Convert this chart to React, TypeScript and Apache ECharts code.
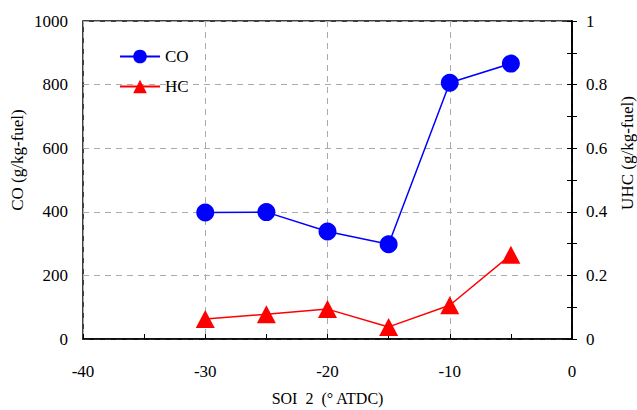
import React, { useEffect, useRef } from "react";
import * as echarts from "echarts";

const soi = [-30, -25, -20, -15, -10, -5];
const coValues = [398, 399, 338, 298, 806, 866];
const hcValues = [0.063, 0.078, 0.094, 0.038, 0.106, 0.265];

const FONT = "Liberation Serif";

export default function App() {
  const ref = useRef<HTMLDivElement>(null);
  useEffect(() => {
    const chart = echarts.init(ref.current!, null, { renderer: "svg" });
    const axisText = { color: "#000", fontFamily: FONT, fontSize: 17 };
    chart.setOption({
      animation: false,
      backgroundColor: "#fff",
      grid: {
        left: 83,
        right: 65,
        top: 21,
        bottom: 71,
        show: true,
        borderColor: "#000",
        borderWidth: 1.5,
        containLabel: false,
        outerBoundsMode: "none",
      },
      legend: {
        left: 114,
        top: 43,
        orient: "vertical",
        itemWidth: 40,
        itemHeight: 17,
        itemGap: 13,
        textStyle: { ...axisText },
        data: ["CO", "HC"],
      },
      xAxis: {
        type: "value",
        min: -40,
        max: 0,
        interval: 10,
        axisLine: { lineStyle: { color: "#000", width: 1.5 }, onZero: false },
        axisTick: { inside: true, length: 5, lineStyle: { color: "#000" } },
        minorTick: { show: true, splitNumber: 2, length: 5, lineStyle: { color: "#000" } },
        axisLabel: { ...axisText, margin: 24 },
        splitLine: { show: true, lineStyle: { color: "#aaa", type: [6, 5], width: 1 } },
        name: "SOI  2  (° ATDC)",
        nameLocation: "middle",
        nameGap: 51,
        nameTextStyle: { ...axisText, fontSize: 16 },
      },
      yAxis: [
        {
          type: "value",
          min: 0,
          max: 1000,
          interval: 200,
          axisLine: { show: true, lineStyle: { color: "#000", width: 1.5 } },
          axisTick: { show: true, inside: true, length: 5, lineStyle: { color: "#000" } },
          minorTick: { show: true, splitNumber: 2, length: 5, lineStyle: { color: "#000" } },
          axisLabel: { ...axisText, margin: 15, formatter: (v: number) => String(v) },
          splitLine: { show: true, lineStyle: { color: "#aaa", type: [6, 5], width: 1 } },
        },
        {
          type: "value",
          min: 0,
          max: 1,
          interval: 0.2,
          position: "right",
          axisLine: { show: true, lineStyle: { color: "#000", width: 1.5 } },
          axisTick: { show: true, inside: true, length: 5, lineStyle: { color: "#000" } },
          minorTick: { show: true, splitNumber: 2, length: 5, lineStyle: { color: "#000" } },
          axisLabel: { ...axisText, margin: 14, formatter: (v: number) => String(v) },
          splitLine: { show: false },
        },
      ],
      graphic: [
        {
          type: "text",
          x: 17,
          y: 160,
          rotation: Math.PI / 2,
          style: {
            text: "CO (g/kg-fuel)",
            fill: "#000",
            fontFamily: FONT,
            fontSize: 17,
            textAlign: "center",
            textVerticalAlign: "middle",
          },
        },
        {
          type: "text",
          x: 627,
          y: 153,
          rotation: Math.PI / 2,
          style: {
            text: "UHC (g/kg-fuel)",
            fill: "#000",
            fontFamily: FONT,
            fontSize: 17,
            textAlign: "center",
            textVerticalAlign: "middle",
          },
        },
      ],
      series: [
        {
          name: "CO",
          type: "line",
          yAxisIndex: 0,
          data: soi.map((x, i) => [x, coValues[i]]),
          symbol: "circle",
          symbolSize: 18,
          itemStyle: { color: "#0000ff" },
          lineStyle: { color: "#0000ff", width: 1.5 },
        },
        {
          name: "HC",
          type: "line",
          yAxisIndex: 1,
          data: soi.map((x, i) => [x, hcValues[i]]),
          symbol: "triangle",
          symbolSize: [19, 18],
          itemStyle: { color: "#ff0000" },
          lineStyle: { color: "#ff0000", width: 1.5 },
        },
      ],
    });
    return () => chart.dispose();
  }, []);
  return <div ref={ref} style={{ width: 637, height: 410, position: "absolute", left: 0, top: 0 }} />;
}
